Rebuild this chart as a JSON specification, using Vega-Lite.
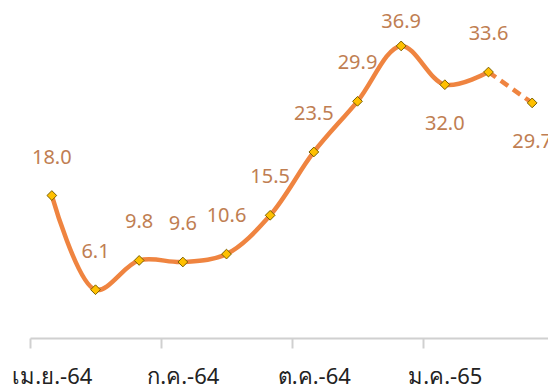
{
  "$schema": "https://vega.github.io/schema/vega-lite/v6.json",
  "width": 548,
  "height": 338,
  "autosize": "none",
  "padding": {"left": 0, "top": 0, "right": 0, "bottom": 54},
  "background": "white",
  "config": {"view": {"stroke": null}, "font": "Noto Sans"},
  "data": {"values": [
    {"i": 0, "m": "เม.ย.-64", "v": 18.0},
    {"i": 1, "m": "พ.ค.-64", "v": 6.1},
    {"i": 2, "m": "มิ.ย.-64", "v": 9.8},
    {"i": 3, "m": "ก.ค.-64", "v": 9.6},
    {"i": 4, "m": "ส.ค.-64", "v": 10.6},
    {"i": 5, "m": "ก.ย.-64", "v": 15.5},
    {"i": 6, "m": "ต.ค.-64", "v": 23.5},
    {"i": 7, "m": "พ.ย.-64", "v": 29.9},
    {"i": 8, "m": "ธ.ค.-64", "v": 36.9},
    {"i": 9, "m": "ม.ค.-65", "v": 32.0},
    {"i": 10, "m": "ก.พ.-65", "v": 33.6},
    {"i": 11, "m": "มี.ค.-65", "v": 29.7}
  ]},
  "encoding": {
    "x": {
      "field": "m", "type": "ordinal", "sort": {"field": "i"},
      "scale": {"type": "band", "range": [30, 554], "paddingInner": 0, "paddingOuter": 0},
      "axis": {
        "title": null,
        "values": ["เม.ย.-64", "ก.ค.-64", "ต.ค.-64", "ม.ค.-65"],
        "labelAngle": 0,
        "labelFontSize": 22,
        "labelColor": "#222222",
        "labelPadding": 18,
        "tickOffset": -21.8,
        "labelOffset": 21.8,
        "tickSize": 10,
        "tickColor": "#d0d0d0",
        "tickWidth": 2,
        "domainColor": "#d0d0d0",
        "domainWidth": 2,
        "grid": false
      }
    },
    "y": {
      "field": "v", "type": "quantitative",
      "scale": {"domain": [0, 42.7], "nice": false, "zero": true},
      "axis": null
    }
  },
  "layer": [
    {
      "transform": [{"filter": "datum.i <= 10"}],
      "mark": {"type": "line", "color": "#EF8440", "strokeWidth": 4.5, "interpolate": "catmull-rom"}
    },
    {
      "transform": [{"filter": "datum.i >= 10"}],
      "mark": {"type": "line", "color": "#EF8440", "strokeWidth": 4.5, "strokeDash": [9, 6]}
    },
    {
      "mark": {"type": "point", "shape": "diamond", "filled": true, "fill": "#FFC000", "stroke": "#7a6000", "strokeWidth": 1, "size": 95, "opacity": 1}
    },
    {
      "transform": [{"filter": "datum.i != 8 && datum.i != 9 && datum.i != 11"}],
      "mark": {"type": "text", "dy": -38, "fontSize": 20, "color": "#C07E52"},
      "encoding": {"text": {"field": "v", "type": "quantitative", "format": ".1f"}}
    },
    {
      "transform": [{"filter": "datum.i == 8"}],
      "mark": {"type": "text", "dy": -24, "fontSize": 20, "color": "#C07E52"},
      "encoding": {"text": {"field": "v", "type": "quantitative", "format": ".1f"}}
    },
    {
      "transform": [{"filter": "datum.i == 9 || datum.i == 11"}],
      "mark": {"type": "text", "dy": 39, "fontSize": 20, "color": "#C07E52"},
      "encoding": {"text": {"field": "v", "type": "quantitative", "format": ".1f"}}
    }
  ]
}
